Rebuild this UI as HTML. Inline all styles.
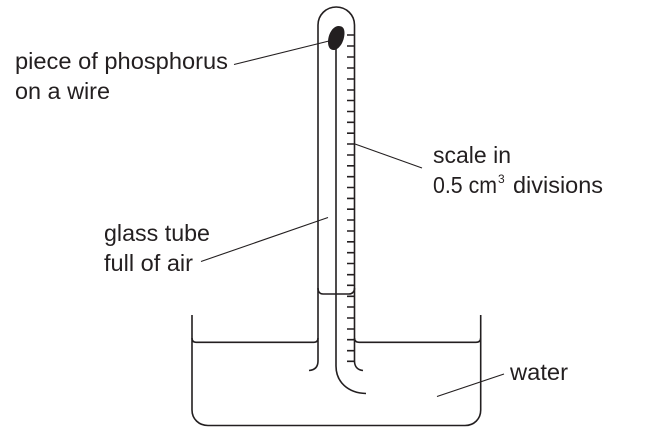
<!DOCTYPE html>
<html>
<head>
<meta charset="utf-8">
<style>
html,body{margin:0;padding:0;background:#fff;width:655px;height:441px;overflow:hidden}
svg{display:block}
text{font-family:"Liberation Sans",sans-serif;font-size:23px;fill:#231f20}
</style>
</head>
<body>
<svg width="655" height="441" viewBox="0 0 655 441">
<g fill="none" stroke="#231f20" stroke-width="1.6">
<!-- tube -->
<path d="M309 370.5C315 370 318 367 318 361V25C318 15 326 7 336.2 7C346.5 7 354.5 15 354.5 25V361C354.5 367 358 370 363 370.5"/>
<!-- wire -->
<path d="M336 40V366C336 382 348 393 366 393.5"/>
<!-- air-water level -->
<path d="M318 288C318 292 320 294 323 294H349C352 294 354.5 292 354.5 288"/>
<!-- beaker -->
<path d="M192 315V410C192 419 199 425.5 208 425.5H465C474 425.5 480.7 419 480.7 410V315"/>
<!-- water level -->
<path d="M192 338C192 341 193.5 342.3 196 342.3H314C316.5 342.3 318 341 318 338"/>
<path d="M354.5 338C354.5 341 356 342.3 359 342.3H476C479 342.3 480.7 341 480.7 338"/>
<!-- scale ticks -->
<path d="M347 35H354M347 46H354M347 57H354M347 68H354M347 79H354M347 90H354M347 100.5H354M347 111.5H354M347 122.3H354M347 133.2H354M347 144H354M347 155H354M347 165.8H354M347 176.7H354M347 187.5H354M347 198.4H354M347 209.2H354M347 220H354M347 231H354M347 241.8H354M347 252.7H354M347 263.5H354M347 274.7H354M347 285.3H354M347 296.3H354M347 307H354M347 318H354M347 329H354M347 339.7H354M347 350.7H354M347 361.3H354"/>
</g>
<!-- leaders -->
<g fill="none" stroke="#231f20" stroke-width="1.1">
<path d="M234 64.5L329 41"/>
<path d="M355 144L422 168"/>
<path d="M201 261.5L328 217.5"/>
<path d="M437 396.5L504 374"/>
</g>
<!-- phosphorus -->
<path d="M344.5 33C344.5 27.5 342 26 338.5 26C332 26.500 328 35 328 42C328 47.5 330.5 50.5 334.5 50C340.5 48.5 344.500 40 344.500 33Z" fill="#231f20"/>
<!-- labels -->
<text x="15" y="69" textLength="213" lengthAdjust="spacingAndGlyphs">piece of phosphorus</text>
<text x="15" y="99" textLength="95" lengthAdjust="spacingAndGlyphs">on a wire</text>
<text x="433" y="163" textLength="78" lengthAdjust="spacingAndGlyphs">scale in</text>
<text x="433" y="193" textLength="64" lengthAdjust="spacingAndGlyphs">0.5 cm</text>
<text x="498" y="183" style="font-size:12px">3</text>
<text x="513" y="193" textLength="90" lengthAdjust="spacingAndGlyphs">divisions</text>
<text x="104" y="241" textLength="106" lengthAdjust="spacingAndGlyphs">glass tube</text>
<text x="104" y="271" textLength="89" lengthAdjust="spacingAndGlyphs">full of air</text>
<text x="510" y="380" textLength="58" lengthAdjust="spacingAndGlyphs">water</text>
</svg>
</body>
</html>
